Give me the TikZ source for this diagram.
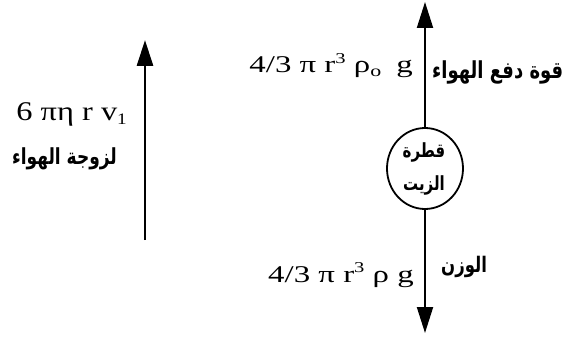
\documentclass[tikz,border=0pt]{standalone}
\usepackage{fontspec}
\usepackage{graphicx}
\setmainfont{Liberation Serif}
\newfontfamily\arabicfont[Script=Arabic]{DejaVu Sans}
\TeXXeTstate=1
\usetikzlibrary{arrows.meta,shapes.geometric}
\newcommand{\supx}[1]{\raisebox{0.85ex}{\fontsize{15}{15}\selectfont #1}}
\newcommand{\subx}[1]{\raisebox{-0.3ex}{\fontsize{16}{16}\selectfont #1}}
\newcommand{\wide}[2]{\scalebox{#1}[1]{#2}}
\newcommand{\tall}[1]{\scalebox{1}[1.3]{#1}}
\begin{document}
\begin{tikzpicture}[x=1pt,y=-1pt,
  force/.style={-{Triangle[length=26pt,width=16pt]}},
  formula/.style={font=\fontsize{24}{26}\selectfont,inner sep=0pt},
  arab/.style={font=\arabicfont\bfseries\fontsize{#1}{#1}\selectfont,inner sep=0pt},
  droptext/.style={font=\arabicfont\bfseries\fontsize{15}{16}\selectfont,inner sep=0pt}]
\useasboundingbox (0,0) rectangle (566,337);
% oil drop
\node[draw,ellipse,line width=1.8pt,minimum width=76pt,minimum height=81pt,inner sep=0pt] (drop) at (425,168.5) {};
\node[droptext] (d1) at (424,152) {\tall{\beginR قطرة\endR}};
\node[droptext] (d2) at (424,185) {\tall{\beginR الزيت\endR}};
\coordinate (toptip) at (425,2);
\coordinate (bottip) at (425,333);
\draw[force,line width=2pt] (drop.north) -- (toptip);
\draw[force,line width=2pt] (drop.south) -- (bottip);
% viscosity arrow
\coordinate (lb) at (145,240);
\coordinate (lt) at (145,40);
\draw[force,line width=2.8pt] (lb) -- (lt);
% labels
\node[formula,anchor=base east] (buoy) at (413,73) {\wide{1.37}{4/3 π r\supx{3} ρ\subx{o}\hspace{5pt} g}};
\node[arab=18,anchor=west] (buoyA) at (432,72) {\tall{\beginR قوة دفع الهواء\endR}};
\node[formula,anchor=base east] (weight) at (414,282) {\wide{1.37}{4/3 π r\supx{3} ρ g}};
\node[arab=16.5,anchor=west] (weightA) at (441,267) {\tall{\beginR الوزن\endR}};
\node[formula,font=\fontsize{27}{29}\selectfont,anchor=base east] (visc) at (127,121) {\wide{1.2}{6 πη r v\subx{1}}};
\node[arab=17,anchor=east] (viscA) at (117,159) {\tall{\beginR لزوجة الهواء\endR}};
\end{tikzpicture}
\end{document}
